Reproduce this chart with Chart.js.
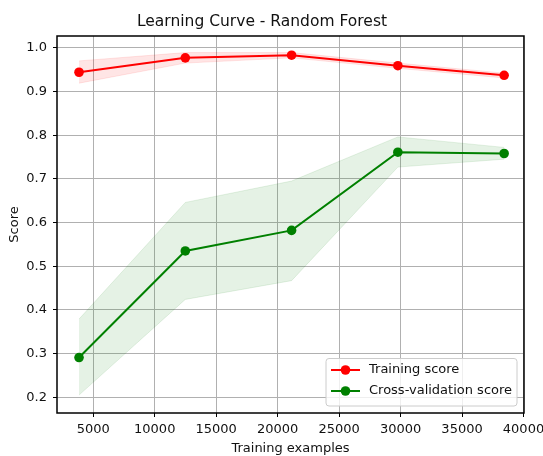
<!DOCTYPE html>
<html>
<head>
<meta charset="utf-8">
<title>Learning Curve - Random Forest</title>
<script src="https://cdn.jsdelivr.net/npm/chart.js@4.4.0/dist/chart.umd.min.js"></script>
<style>
  html, body { margin: 0; padding: 0; background: #fff; }
  canvas { display: block; }
</style>
</head>
<body>
<canvas id="lcChart" width="543" height="456"></canvas>
<script>
// values
var trainSizes = [3842, 12488, 21133, 29779, 38424];
var trainScore = [0.944, 0.977, 0.983, 0.959, 0.937];
var trainUpper = [0.970, 0.989, 0.989, 0.965, 0.942];
var trainLower = [0.919, 0.965, 0.977, 0.953, 0.931];
var cvScore = [0.291, 0.535, 0.582, 0.761, 0.758];
var cvUpper = [0.379, 0.646, 0.695, 0.796, 0.772];
var cvLower = [0.205, 0.424, 0.467, 0.727, 0.745];
var xTicks = [5000, 10000, 15000, 20000, 25000, 30000, 35000, 40000];
var yTicks = [0.2, 0.3, 0.4, 0.5, 0.6, 0.7, 0.8, 0.9, 1.0];

var FONT = "'DejaVu Sans', sans-serif";

function pts(ys) {
    return trainSizes.map(function (x, i) { return {x: x, y: ys[i]}; });
}

function band(ys, fill, color) {
    return {
        data: pts(ys),
        fill: fill,
        backgroundColor: color,
        borderColor: color,
        borderWidth: 1,
        pointRadius: 0,
        tension: 0,
        order: 1
    };
}

function scoreLine(label, ys, color) {
    return {
        label: label,
        data: pts(ys),
        borderColor: color,
        backgroundColor: color,
        borderWidth: 2,
        pointRadius: 4.8,
        pointBorderWidth: 0,
        fill: false,
        tension: 0,
        inLegend: true,
        order: 0
    };
}

// full box round the plot area, like matplotlib spines
var spines = {
    id: 'spines',
    afterDatasetsDraw: function (chart) {
        var ctx = chart.ctx, a = chart.chartArea;
        ctx.save();
        ctx.strokeStyle = '#000';
        ctx.lineWidth = 1.5;
        ctx.strokeRect(a.left, a.top, a.right - a.left, a.bottom - a.top);
        ctx.restore();
    }
};

// legend in the lower right corner of the plot area
var legendBox = {
    id: 'legendBox',
    afterDraw: function (chart) {
        var ctx = chart.ctx, a = chart.chartArea;
        var entries = chart.data.datasets.filter(function (d) { return d.inLegend; });
        var w = 191, h = 47.5;
        var left = a.right - 198, top = a.bottom - 54.5;
        ctx.save();
        ctx.beginPath();
        ctx.roundRect(left, top, w, h, 3);
        ctx.fillStyle = 'rgba(255,255,255,0.8)';
        ctx.fill();
        ctx.strokeStyle = '#cccccc';
        ctx.lineWidth = 1;
        ctx.stroke();
        entries.forEach(function (d, i) {
            var y = top + 11.5 + i * 21;
            ctx.strokeStyle = d.borderColor;
            ctx.lineWidth = 2;
            ctx.beginPath();
            ctx.moveTo(left + 5, y);
            ctx.lineTo(left + 34, y);
            ctx.stroke();
            ctx.fillStyle = d.borderColor;
            ctx.beginPath();
            ctx.arc(left + 19.5, y, 4.8, 0, Math.PI * 2);
            ctx.fill();
            ctx.fillStyle = '#111';
            ctx.font = '13px ' + FONT;
            ctx.textAlign = 'left';
            ctx.textBaseline = 'middle';
            ctx.fillText(d.label, left + 43, y);
        });
        ctx.restore();
    }
};

var ctx = document.getElementById('lcChart').getContext('2d');

var chart = new Chart(ctx, {
    type: 'line',
    data: {
        datasets: [
            scoreLine('Training score', trainScore, '#ff0000'),
            scoreLine('Cross-validation score', cvScore, '#008000'),
            band(trainUpper, '+1', 'rgba(255,0,0,0.1)'),
            band(trainLower, false, 'rgba(255,0,0,0.1)'),
            band(cvUpper, '+1', 'rgba(0,128,0,0.1)'),
            band(cvLower, false, 'rgba(0,128,0,0.1)')
        ]
    },
    options: {
        responsive: false,
        animation: false,
        layout: { padding: { left: 0, right: 19, top: 0, bottom: 0 } },
        plugins: {
            legend: { display: false },
            tooltip: { enabled: false },
            title: {
                display: true,
                text: 'Learning Curve - Random Forest',
                color: '#111',
                font: { family: FONT, size: 15.5, weight: 'normal' },
                padding: { top: 12.5, bottom: 4.9 }
            }
        },
        scales: {
            x: {
                type: 'linear',
                min: 2050,
                max: 40040,
                afterBuildTicks: function (scale) {
                    scale.ticks = xTicks.map(function (v) { return {value: v}; });
                },
                afterFit: function (scale) {
                    scale.height = 43;
                    scale.paddingLeft = 0;
                    scale.paddingRight = 0;
                },
                grid: { color: '#b0b0b0', lineWidth: 1, tickLength: 4, tickColor: '#000', tickWidth: 1 },
                border: { display: false },
                ticks: {
                    color: '#111',
                    padding: 4.5,
                    maxRotation: 0,
                    autoSkip: false,
                    font: { family: FONT, size: 13 },
                    callback: function (v) { return String(v); }
                },
                title: {
                    display: true,
                    text: 'Training examples',
                    color: '#111',
                    font: { family: FONT, size: 13 },
                    padding: { top: 0, bottom: 0 }
                }
            },
            y: {
                type: 'linear',
                min: 0.164,
                max: 1.027,
                afterBuildTicks: function (scale) {
                    scale.ticks = yTicks.map(function (v) { return {value: v}; });
                },
                afterFit: function (scale) { scale.width = 57; },
                grid: { color: '#b0b0b0', lineWidth: 1, tickLength: 4, tickColor: '#000', tickWidth: 1 },
                border: { display: false },
                ticks: {
                    color: '#111',
                    padding: 6,
                    autoSkip: false,
                    font: { family: FONT, size: 13 },
                    callback: function (v) { return v.toFixed(1); }
                },
                title: {
                    display: true,
                    text: 'Score',
                    color: '#111',
                    font: { family: FONT, size: 13 },
                    padding: { top: 7, bottom: 0 }
                }
            }
        }
    },
    plugins: [spines, legendBox]
});
</script>
</body>
</html>
